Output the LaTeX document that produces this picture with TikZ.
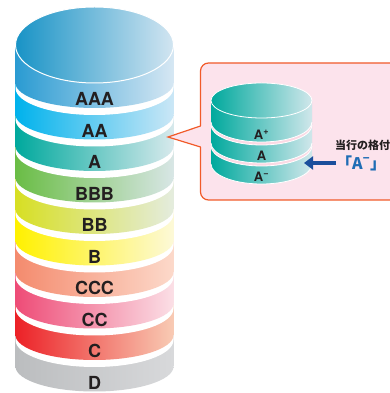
\documentclass[tikz,border=0pt]{standalone}
\usepackage{fontspec}
\newfontfamily\heros{TeX Gyre Heros}
\newfontfamily\cjk{Noto Sans CJK JP}
\usetikzlibrary{arrows.meta}
\definecolor{labeltext}{HTML}{231F20}
\definecolor{lTop}{HTML}{1893C6}\definecolor{rTop}{HTML}{D2E5F1}
\definecolor{lAAA}{HTML}{2A9BD2}\definecolor{rAAA}{HTML}{D6E7F3}
\definecolor{lAA}{HTML}{00B2EC}\definecolor{rAA}{HTML}{CBE7F6}
\definecolor{lA}{HTML}{00A99D}\definecolor{rA}{HTML}{D7E9EC}
\definecolor{lBBB}{HTML}{6ABD45}\definecolor{rBBB}{HTML}{D8E6E6}
\definecolor{lBB}{HTML}{D7DF23}\definecolor{rBB}{HTML}{E4ECDE}
\definecolor{lB}{HTML}{FFF100}\definecolor{rB}{HTML}{FDF9D8}
\definecolor{lCCC}{HTML}{F48B6E}\definecolor{rCCC}{HTML}{FCD9CA}
\definecolor{lCC}{HTML}{EE4C77}\definecolor{rCC}{HTML}{FBDFE6}
\definecolor{lC}{HTML}{EC2127}\definecolor{rC}{HTML}{F8CBB4}
\definecolor{lD}{HTML}{BBBDBF}\definecolor{rD}{HTML}{D8D9DB}
\definecolor{lteal}{HTML}{00A99D}\definecolor{rteal}{HTML}{D0E7EB}
\definecolor{calloutfill}{HTML}{FCE3EC}
\definecolor{calloutline}{HTML}{F15A29}
\definecolor{gappink}{HTML}{FBD9E4}
\definecolor{arrowblue}{HTML}{1B4F9C}
\definecolor{ratingblue}{HTML}{1F6DB5}
\tikzset{
  bandlabel/.style={font=\heros\bfseries\fontsize{18}{20}\selectfont, text=labeltext, inner sep=0},
  smalllabel/.style={font=\heros\bfseries\fontsize{13}{15}\selectfont, text=labeltext, inner sep=0},
  callout/.style={draw=calloutline, fill=calloutfill, line width=1.2pt},
  ratingarrow/.style={draw=arrowblue, line width=4pt, -{Triangle[length=9pt,width=13pt]}}
}
\begin{document}
\begin{tikzpicture}[x=1pt, y=1pt]
      \useasboundingbox (0,0) rectangle (390,393);
      \foreach \lab [count=\i] in {D,C,CC,CCC,B,BB,BBB,A,AA,AAA} {
        \pgfmathsetmacro\yb{26.5+31.5*(\i-1)}
        \fill[white] (15.5,\yb+38) -- (15.5,\yb-5) arc[start angle=180, end angle=360, x radius=79, y radius=27] -- (173.5,\yb+38) -- cycle;
        \shade[left color=l\lab, right color=r\lab] (15.5,\yb+38) -- (15.5,\yb) arc[start angle=180, end angle=360, x radius=79, y radius=25] -- (173.5,\yb+38) -- cycle;
        \node[bandlabel] (band-\lab) at (94.5,\yb-16.3) {\lab};
      }
      \shade[left color=lTop, right color=rTop] (94.5,348) ellipse[x radius=79, y radius=38];
      \draw[white, line width=1pt] (94.5,348) ellipse[x radius=79, y radius=38];
      \draw[callout, rounded corners=8pt] (200.5,193) rectangle (410,330);
      \fill[calloutfill] (202,267) -- (168,256) -- (202,246) -- cycle;
      \draw[draw=calloutline, line width=1.2pt] (200.5,267) -- (168,256) -- (200.5,246);
      \foreach \lab [count=\i] in {A\textsuperscript{−},A,A\textsuperscript{+}} {
        \pgfmathsetmacro\yb{229+21*(\i-1)}
        \ifnum\i>1
          \fill[gappink] (211,\yb+21.5) -- (211,\yb-3) arc[start angle=180, end angle=360, x radius=50.5, y radius=20] -- (312,\yb+21.5) -- cycle;
          \draw[white, line width=0.8pt] (211,\yb-3) arc[start angle=180, end angle=360, x radius=50.5, y radius=20];
        \fi
        \shade[left color=lteal, right color=rteal] (211,\yb+21.5) -- (211,\yb) arc[start angle=180, end angle=360, x radius=50.5, y radius=20] -- (312,\yb+21.5) -- cycle;
        \draw[white, line width=0.8pt] (211,\yb) arc[start angle=180, end angle=360, x radius=50.5, y radius=20];
        \node[smalllabel] (small-\i) at (261.5,\yb-12.5) {\lab};
      }
      \shade[left color=lteal, right color=rteal] (261.5,292.5) ellipse[x radius=50.5, y radius=17.5];
      \draw[white, line width=0.8pt] (261.5,292.5) ellipse[x radius=50.5, y radius=17.5];
      \node[anchor=west, inner sep=0, text=labeltext, font=\cjk\bfseries\fontsize{11}{13}\selectfont] (ratedby) at (335,248) {当行の格付};
      \node[anchor=west, inner sep=0, text=ratingblue, font=\cjk\bfseries\fontsize{16}{19}\selectfont] (current) at (336,230) {「A\textsuperscript{−}」};
      \coordinate (tail) at (336,230);
      \coordinate (tip) at (304,230);
      \draw[ratingarrow] (tail) -- (tip);
\end{tikzpicture}
\end{document}
